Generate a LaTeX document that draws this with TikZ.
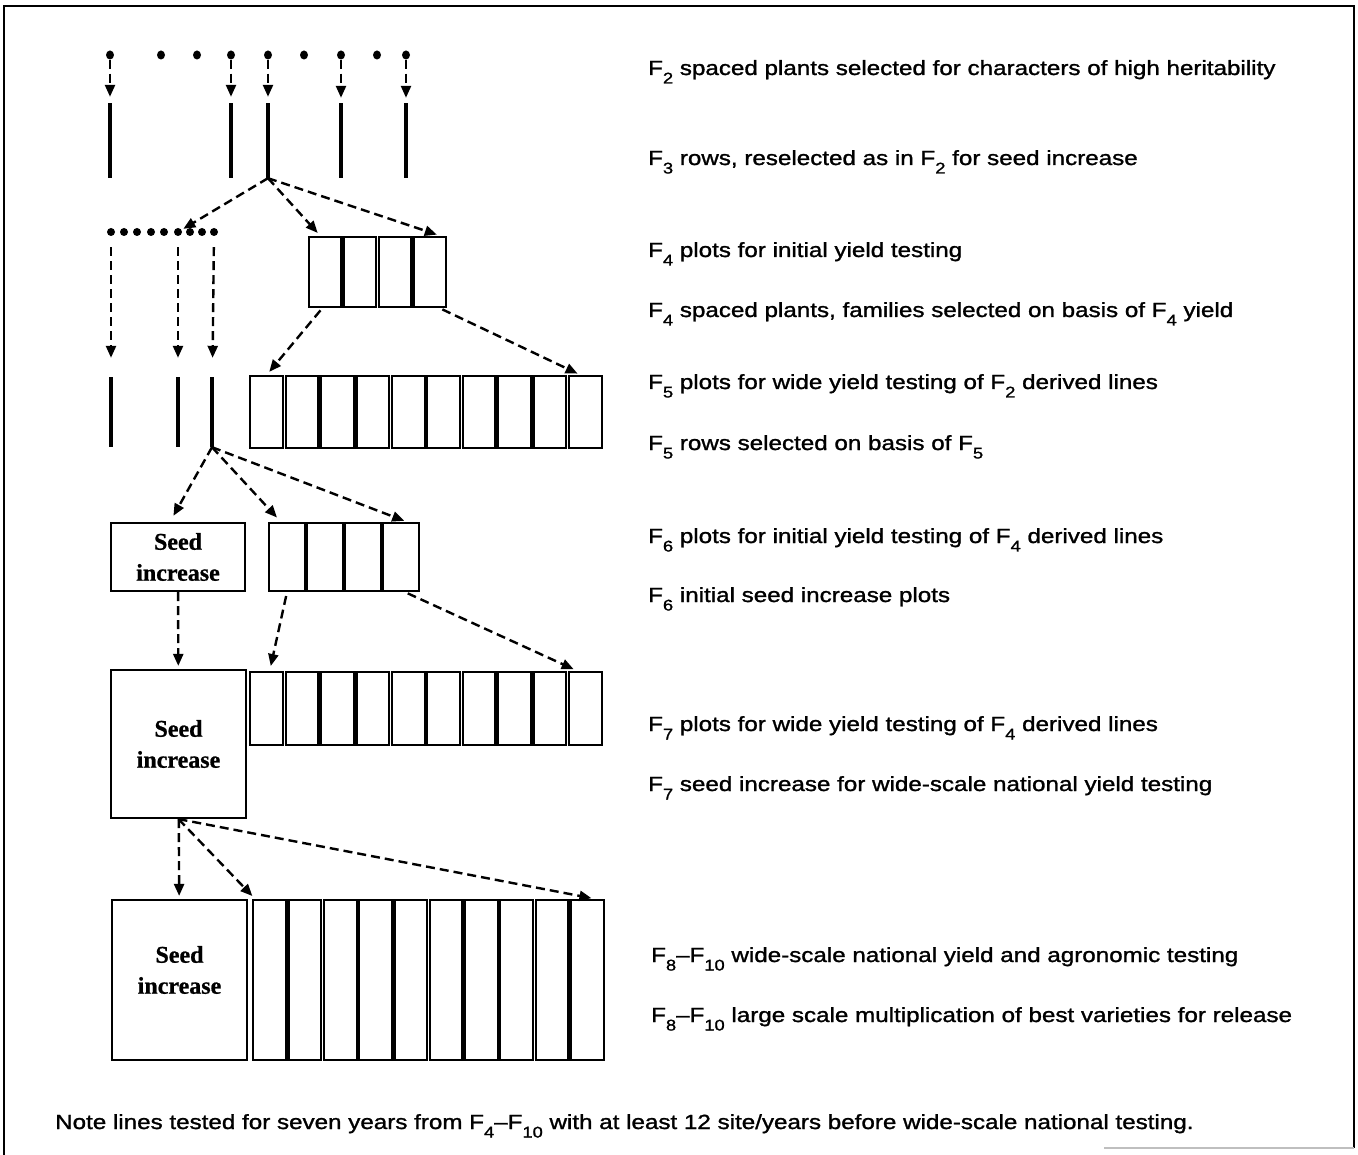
\documentclass[tikz,border=0pt]{standalone}
\usepackage{fontspec}
\usepackage{graphicx}
\usetikzlibrary{arrows.meta,calc}
\newfontfamily\labfont{Liberation Sans}[FakeStretch=1.18,FakeBold=1.3]
\newfontfamily\seedfont{Liberation Serif}[FakeBold=0.8]
\newcommand\sbx[1]{\raisebox{-8.5pt}{\fontsize{15.5}{15.5}\selectfont #1}}
\tikzset{
  dot/.style={ellipse,fill=black,draw=none,inner sep=0pt,minimum width=8pt,minimum height=9pt},
  sdot/.style={circle,fill=black,draw=none,inner sep=0pt,minimum size=8pt},
  vline/.style={rectangle,fill=black,draw=none,inner sep=0pt,minimum width=3.5pt},
  cell/.style={rectangle,draw=black,line width=2.2pt,inner sep=0pt},
  seedbox/.style={rectangle,draw=black,line width=2.2pt,inner sep=0pt,align=center,
    font=\seedfont\bfseries\fontsize{24}{31}\selectfont},
  darr/.style={draw=black,line width=2.4pt,dash pattern=on 9pt off 5pt,
    -{Triangle[length=12pt,width=10pt]}},
  lab/.style={anchor=base west,inner sep=0pt,font=\labfont\fontsize{20.5}{24}\selectfont}
}
\usetikzlibrary{shapes.geometric}
\begin{document}
\begin{tikzpicture}[x=1pt,y=-1pt]
\useasboundingbox[fill=white] (0,0) rectangle (1358,1155);
% frame
\draw[line width=2.5pt] (4,1155) -- (4,6) -- (1354,6) -- (1354,1148);
\draw[gray!50,line width=1.5pt] (1104,1148) -- (1354,1148);

% F2 dots
\foreach \n/\x in {1/110,2/161,3/197,4/231,5/268,6/304,7/341,8/377,9/406}
  \node[dot] (d\n) at (\x,55) {};
% F3 rows
\foreach \n/\x in {a/110,b/231,c/268,d/341,e/406}
  \node[vline,minimum height=75pt] (l3\n) at (\x,140.5) {};
\draw[darr,shorten >=6pt] (d1) -- (l3a);
\draw[darr,shorten >=6pt] (d4) -- (l3b);
\draw[darr,shorten >=6pt] (d5) -- (l3c);
\draw[darr,shorten >=5pt] (d7) -- (l3d);
\draw[darr,shorten >=5pt] (d9) -- (l3e);

% F4 spaced plants (dotted row)
\foreach \n/\x in {1/111,2/124,3/137,4/151,5/164,6/178,7/190,8/202,9/214}
  \node[sdot] (r\n) at (\x,232) {};
% F4 plots
\foreach \i in {1,...,4}
  \node[cell,minimum width=32.25pt,minimum height=70pt] (p4\i) at ({308+34.75*(\i-0.5)},272) {};
\draw[darr,shorten >=2pt] (l3c.south) -- (r6);
\draw[darr,shorten >=4pt] (l3c.south) -- ($(p41.north)+(-5,0)$);
\draw[darr,shorten >=4pt] (l3c.south) -- ($(p44.north)+(11,0)$);

% F5 rows
\foreach \n/\x in {a/111,b/178,c/212}
  \node[vline,minimum height=70pt] (l5\n) at (\x,412) {};
\draw[darr,shorten <=11pt,shorten >=19pt] (r1) -- (l5a);
\draw[darr,shorten <=11pt,shorten >=19pt] (r6) -- (l5b);
\draw[darr,shorten <=11pt,shorten >=19pt] (r9) -- (l5c);
% F5 plots
\foreach \i in {1,...,10}
  \node[cell,minimum width=32.9pt,minimum height=72pt] (p5\i) at ({249+35.4*(\i-0.5)},412) {};
\draw[darr,shorten <=3pt,shorten >=4pt] ($(p41.south)+(-3,0)$) -- (p51.north);
\draw[darr,shorten <=3pt,shorten >=3pt] ($(p44.south)+(10,0)$) -- ($(p510.north)+(-5,0)$);

% F6
\node[seedbox,minimum width=134pt,minimum height=68pt] (s1) at (178,557) {Seed\\increase};
\foreach \i in {1,...,4}
  \node[cell,minimum width=35.5pt,minimum height=68pt] (p6\i) at ({268+38*(\i-0.5)},557) {};
\draw[darr,shorten >=7pt] (l5c.south) -- ($(s1.north)+(-8,0)$);
\draw[darr,shorten >=6pt] (l5c.south) -- ($(p61.north)+(-6,0)$);
\draw[darr,shorten >=3pt] (l5c.south) -- ($(p64.north)+(6,0)$);

% F7
\node[seedbox,minimum width=135pt,minimum height=148pt] (s2) at (178.5,744) {Seed\\increase};
\foreach \i in {1,...,10}
  \node[cell,minimum width=32.9pt,minimum height=73pt] (p7\i) at ({249+35.4*(\i-0.5)},708.5) {};
\draw[darr,shorten >=3pt] (s1) -- (s2);
\draw[darr,shorten <=4pt,shorten >=5pt] (p61.south) -- ($(p71.north)+(3,0)$);
\draw[darr,shorten <=3pt,shorten >=4pt] ($(p64.south)+(4,0)$) -- ($(p710.north)+(-8,0)$);

% F8-F10
\node[seedbox,minimum width=135pt,minimum height=160pt] (s3) at (179.5,980) {};
\node[inner sep=0pt,align=center,font=\seedfont\bfseries\fontsize{24}{31}\selectfont] (s3t) at ($(s3)+(0,-10)$) {Seed\\increase};
\foreach \i in {1,...,10}
  \node[cell,minimum width=32.8pt,minimum height=160pt] (p8\i) at ({252+35.3*(\i-0.5)},980) {};
\draw[darr,shorten >=3pt] (s2) -- (s3);
\draw[darr,shorten >=4pt] (s2.south) -- ($(p81.north west)+(3,0)$);
\draw[darr,shorten >=4pt] (s2.south) -- ($(p810.north)+(8,0)$);

% labels
\node[lab] (t1) at (648,75) {F\sbx{2} spaced plants selected for characters of high heritability};
\node[lab] (t2) at (648,165) {F\sbx{3} rows, reselected as in F\sbx{2} for seed increase};
\node[lab] (t3) at (648,257) {F\sbx{4} plots for initial yield testing};
\node[lab] (t4) at (648,317) {F\sbx{4} spaced plants, families selected on basis of F\sbx{4} yield};
\node[lab] (t5) at (648,389) {F\sbx{5} plots for wide yield testing of F\sbx{2} derived lines};
\node[lab] (t6) at (648,450) {F\sbx{5} rows selected on basis of F\sbx{5}};
\node[lab] (t7) at (648,543) {F\sbx{6} plots for initial yield testing of F\sbx{4} derived lines};
\node[lab] (t8) at (648,602) {F\sbx{6} initial seed increase plots};
\node[lab] (t9) at (648,731) {F\sbx{7} plots for wide yield testing of F\sbx{4} derived lines};
\node[lab] (t10) at (648,791) {F\sbx{7} seed increase for wide-scale national yield testing};
\node[lab] (t11) at (651,962) {F\sbx{8}–F\sbx{10} wide-scale national yield and agronomic testing};
\node[lab] (t12) at (651,1022) {F\sbx{8}–F\sbx{10} large scale multiplication of best varieties for release};
\node[lab] (note) at (55,1129) {Note lines tested for seven years from F\sbx{4}–F\sbx{10} with at least 12 site/years before wide-scale national testing.};
\end{tikzpicture}
\end{document}
